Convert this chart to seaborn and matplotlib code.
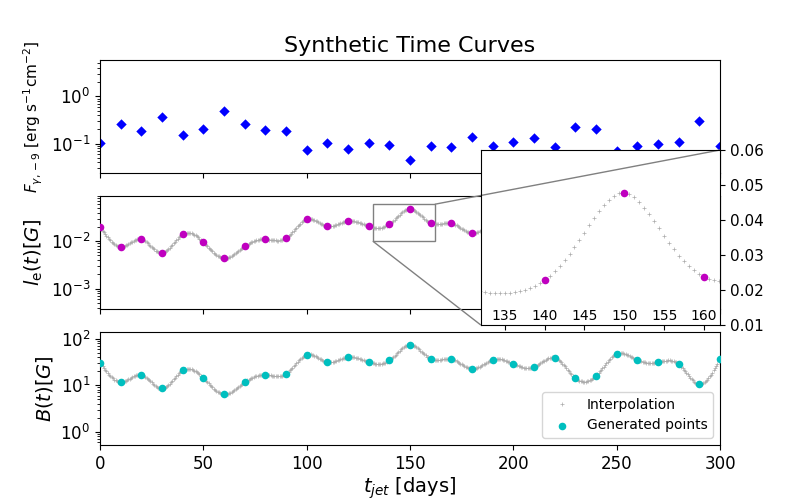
import numpy as np
import pandas as pd
import matplotlib
matplotlib.use("Agg")
import matplotlib.pyplot as plt
import seaborn as sns
from mpl_toolkits.axes_grid1.inset_locator import mark_inset

# ---------------- data ----------------
t_days = [0, 10, 20, 30, 40, 50, 60, 70, 80, 90, 100, 110, 120, 130, 140, 150,
          160, 170, 180, 190, 200, 210, 220, 230, 240, 250, 260, 270, 280, 290, 300]

flux = [0.105, 0.257, 0.184, 0.36, 0.149, 0.206, 0.486, 0.264, 0.19, 0.184,
        0.072, 0.102, 0.0785, 0.102, 0.091, 0.044, 0.087, 0.085, 0.137, 0.088,
        0.107, 0.128, 0.084, 0.221, 0.20, 0.070, 0.088, 0.100, 0.107, 0.297, 0.088]

le_vals = [0.0198, 0.0077, 0.0110, 0.0056, 0.0141, 0.0095, 0.0044, 0.0078, 0.0110, 0.0116,
           0.0292, 0.0207, 0.0269, 0.0207, 0.0229, 0.0478, 0.0238, 0.0240, 0.0148, 0.0229,
           0.0187, 0.0159, 0.0253, 0.0092, 0.0103, 0.0308, 0.0226, 0.0203, 0.0185, 0.0068, 0.0240]

b_vals = [30.3, 11.6, 16.7, 8.5, 21.1, 14.2, 6.4, 11.6, 16.7, 17.6,
          45.2, 31.3, 40.2, 31.3, 34.0, 74.3, 36.4, 36.4, 22.5, 35.2,
          28.8, 24.4, 38.9, 14.2, 15.9, 47.4, 34.7, 31.3, 28.4, 10.5, 37.0]

x_ticks = [0, 50, 100, 150, 200, 250, 300]
inset_xticks = [135, 140, 145, 150, 155, 160]
inset_yticks = [0.01, 0.02, 0.03, 0.04, 0.05, 0.06]
n_fine = 481


def natural_cubic_spline(x, y, xs):
    x = np.asarray(x, float)
    y = np.asarray(y, float)
    n = len(x)
    h = np.diff(x)
    A = np.zeros((n, n))
    r = np.zeros(n)
    A[0, 0] = 1.0
    A[-1, -1] = 1.0
    for i in range(1, n - 1):
        A[i, i - 1] = h[i - 1]
        A[i, i] = 2 * (h[i - 1] + h[i])
        A[i, i + 1] = h[i]
        r[i] = 6 * ((y[i + 1] - y[i]) / h[i] - (y[i] - y[i - 1]) / h[i - 1])
    M = np.linalg.solve(A, r)
    idx = np.clip(np.searchsorted(x, xs) - 1, 0, n - 2)
    x0, x1 = x[idx], x[idx + 1]
    hh = x1 - x0
    a = (x1 - xs) / hh
    b = (xs - x0) / hh
    return (a * y[idx] + b * y[idx + 1]
            + ((a ** 3 - a) * M[idx] + (b ** 3 - b) * M[idx + 1]) * hh ** 2 / 6.0)


t_fine = np.linspace(t_days[0], t_days[-1], n_fine)
le_fine = 10 ** natural_cubic_spline(t_days, np.log10(le_vals), t_fine)
b_fine = 10 ** natural_cubic_spline(t_days, np.log10(b_vals), t_fine)

pts = pd.DataFrame({"t": t_days, "flux": flux, "le": le_vals, "b": b_vals})
fine = pd.DataFrame({"t": t_fine, "le": le_fine, "b": b_fine})

# ---------------- figure ----------------
plt.rcParams["xtick.labelsize"] = 12
plt.rcParams["ytick.labelsize"] = 12

fig, (ax1, ax2, ax3) = plt.subplots(3, 1, figsize=(8, 5), dpi=100, sharex=True)

interp_kw = dict(marker="+", linestyle="none", markersize=2.2, mec="#ababab",
                 mew=0.5, color="#ababab", estimator=None, sort=False, zorder=2)
pt_kw = dict(marker="o", s=30, linewidth=0, zorder=3)

# top panel
sns.scatterplot(data=pts, x="t", y="flux", marker="D", color="b", s=28,
                linewidth=0, ax=ax1)
ax1.set_yscale("log")
ax1.set_ylim(0.0235, 5.9)
ax1.set_ylabel(r"$F_{\gamma,-9}$ [erg s$^{-1}$cm$^{-2}$]", fontsize=11)
ax1.set_xlabel("")
ax1.set_title("Synthetic Time Curves", fontsize=16)

# middle panel
sns.lineplot(data=fine, x="t", y="le", ax=ax2, **interp_kw)
sns.scatterplot(data=pts, x="t", y="le", color="m", ax=ax2, **pt_kw)
ax2.set_yscale("log")
ax2.set_ylim(3.7e-4, 0.09)
ax2.set_ylabel(r"$l_{\rm e}(t) [G]$", fontsize=14)
ax2.set_xlabel("")

# bottom panel
sns.lineplot(data=fine, x="t", y="b", ax=ax3, label="Interpolation", **interp_kw)
sns.scatterplot(data=pts, x="t", y="b", color="c", ax=ax3,
                label="Generated points", **pt_kw)
ax3.set_yscale("log")
ax3.set_ylim(0.52, 140)
ax3.set_ylabel(r"$B(t) [G]$", fontsize=14)
ax3.set_xlabel(r"$t_{jet}$ [days]", fontsize=14, labelpad=2)
ax3.set_xlim(0, 300)
ax3.set_xticks(x_ticks)
ax3.legend(loc="lower right", fontsize=10)

# inset
axins = fig.add_axes([0.601, 0.35, 0.299, 0.35])
sns.lineplot(data=fine, x="t", y="le", ax=axins, **interp_kw)
sns.scatterplot(data=pts, x="t", y="le", color="m", ax=axins, **pt_kw)
axins.set_xlim(132, 162)
axins.set_ylim(0.01, 0.06)
axins.set_xticks(inset_xticks)
axins.set_yticks(inset_yticks)
axins.yaxis.tick_right()
axins.set_xlabel("")
axins.set_ylabel("")
axins.tick_params(axis="x", labelsize=10, pad=-15)
axins.tick_params(axis="y", labelsize=11)
mark_inset(ax2, axins, loc1=1, loc2=3, fc="none", ec="0.5")

fig.savefig("out.png", dpi=100)
